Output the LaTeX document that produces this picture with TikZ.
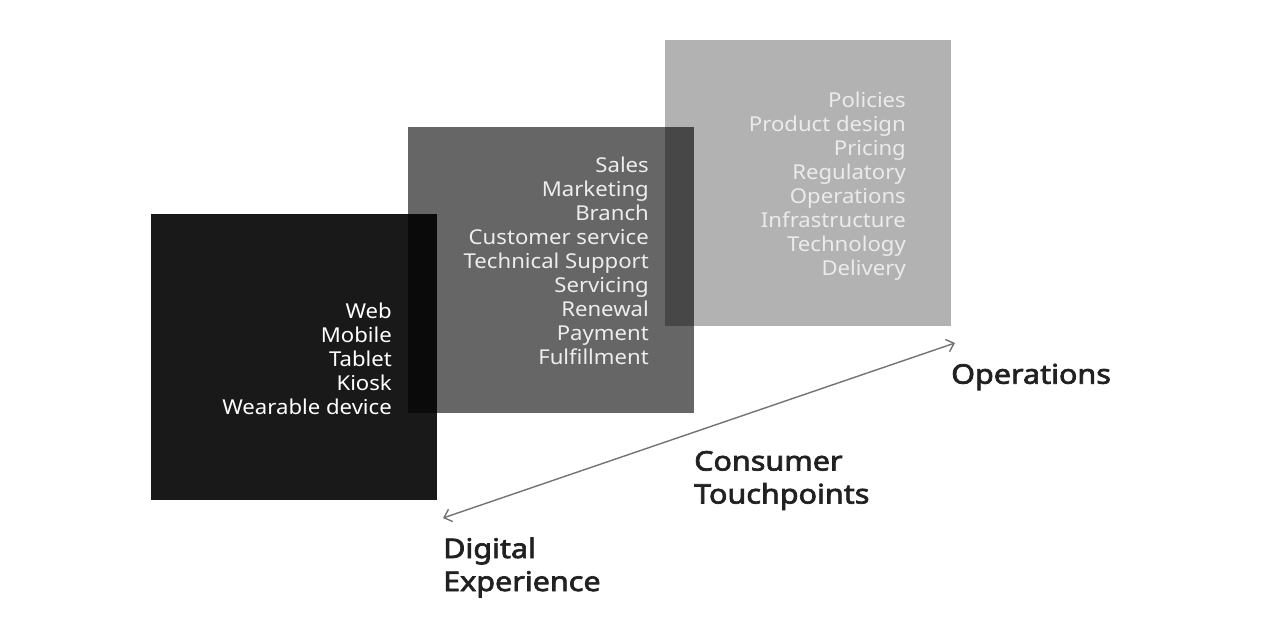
\documentclass[tikz,border=0pt]{standalone}
\usepackage{fontspec}
\setmainfont{Noto Sans}[FakeStretch=1.08]
\newfontfamily\labelfont{Noto Sans}[FakeStretch=1.13,FakeBold=2.6]
\usetikzlibrary{arrows.meta}
\begin{document}
\begin{tikzpicture}[x=1pt,y=-1pt,
  box/.style={fill=black,draw=none,minimum width=286pt,minimum height=286pt,inner sep=0,anchor=north west},
  items/.style={align=right,anchor=east,inner sep=0,font=\fontsize{20.5}{24}\selectfont},
  label/.style={align=left,anchor=west,inner sep=0,text=black!87,font=\labelfont\fontsize{27}{33}\selectfont},
  axis/.style={draw=black!55,line width=1.4pt,{Straight Barb[length=7pt,width=13pt]}-{Straight Barb[length=7pt,width=13pt]}}
]
\useasboundingbox (0,0) rectangle (1280,640);
\fill[white] (0,0) rectangle (1280,640);
\node[box,fill opacity=0.3] (ops) at (665,40) {};
\node[box,fill opacity=0.6] (ct) at (408,127) {};
\node[box,fill opacity=0.9] (de) at (151,214) {};
\node[items,text=white!92!black] (opsT) at (906,186) {Policies\\Product design\\Pricing\\Regulatory\\Operations\\Infrastructure\\Technology\\Delivery};
\node[items,text=white!93!black] (ctT) at (649,261) {Sales\\Marketing\\Branch\\Customer service\\Technical Support\\Servicing\\Renewal\\Payment\\Fulfillment};
\node[items,text=white] (deT) at (392,359) {Web\\Mobile\\Tablet\\Kiosk\\Wearable device};
\coordinate (aL) at (443,518);
\coordinate (aR) at (955,343);
\draw[axis] (aL) -- (aR);
\node[label] (opsL) at (951,377) {Operations};
\node[label] (ctL) at (694,480.5) {Consumer\\Touchpoints};
\node[label] (deL) at (443,567.5) {Digital\\Experience};
\end{tikzpicture}
\end{document}
